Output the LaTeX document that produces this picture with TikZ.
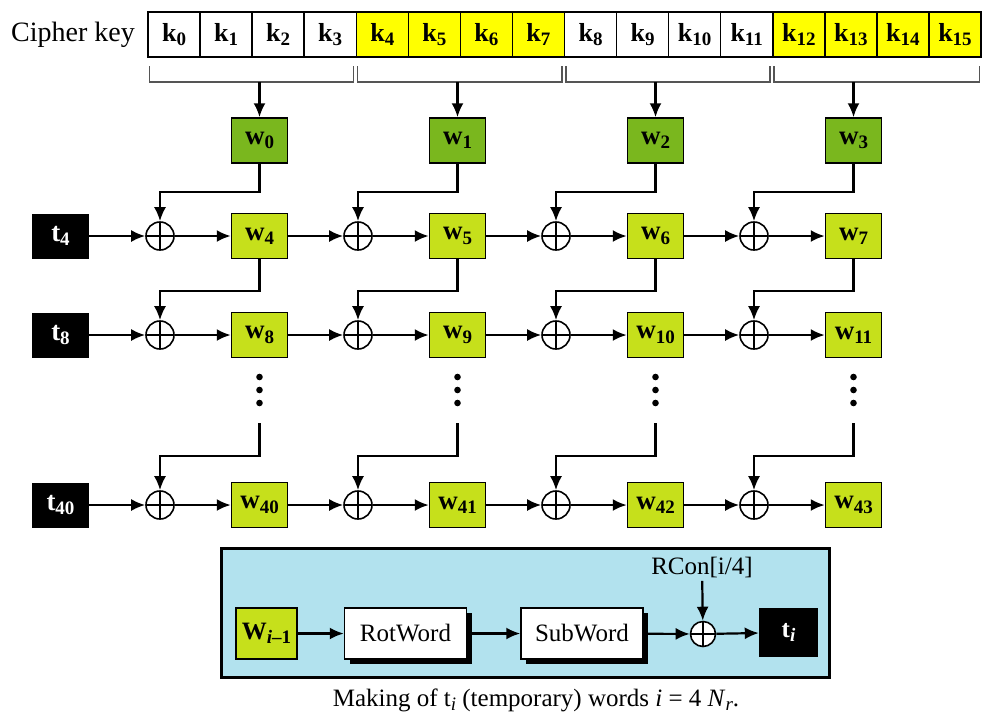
\documentclass[tikz,border=0pt]{standalone}
\usepackage{fontspec}
\setmainfont{Liberation Serif}
\usepackage{tikz}
\usetikzlibrary{positioning,arrows.meta,calc,shadows}
\definecolor{keyyellow}{RGB}{255,255,0}
\definecolor{wdark}{RGB}{122,183,30}
\definecolor{wlight}{RGB}{198,224,27}
\definecolor{panelblue}{RGB}{178,226,238}
\definecolor{bracketgray}{RGB}{85,85,85}
\newcommand{\lowsub}[1]{\raisebox{-0.35ex}{\fontsize{19}{19}\selectfont #1}}
\tikzset{
    on grid,
    node distance=3cm,
    auto,
    keytitle/.style = {
        shape=rectangle,
        font=\fontsize{28}{30}\selectfont
    },
    keycell/.style = {
        draw,
        shape=rectangle,
        minimum height=45pt,
        minimum width=52.06pt,
        inner sep=0pt,
        line width=1.5pt,
        font=\fontsize{26}{26}\selectfont\bfseries
    },
    yellowcell/.style = {
        keycell,
        fill=keyyellow
    },
    wordbox/.style = {
        draw,
        shape=rectangle,
        minimum height=45pt,
        minimum width=56pt,
        inner sep=0pt,
        line width=1.5pt,
        fill=wlight,
        font=\fontsize{27}{27}\selectfont\bfseries
    },
    firstword/.style = {
        wordbox,
        fill=wdark
    },
    tempbox/.style = {
        shape=rectangle,
        fill=black,
        text=white,
        minimum height=45pt,
        minimum width=57pt,
        inner sep=0pt,
        font=\fontsize{27}{27}\selectfont\bfseries
    },
    xor/.style = {
        draw,
        shape=circle,
        minimum size=28pt,
        inner sep=0pt,
        line width=1.6pt,
        fill=white,
        path picture={\draw[line width=1.6pt]
            (path picture bounding box.north) -- (path picture bounding box.south)
            (path picture bounding box.west) -- (path picture bounding box.east);}
    },
    panel/.style = {
        draw,
        shape=rectangle,
        fill=panelblue,
        minimum height=129pt,
        minimum width=608pt,
        line width=3pt
    },
    shadowbox/.style = {
        draw,
        shape=rectangle,
        fill=white,
        minimum height=51pt,
        minimum width=122pt,
        line width=1.5pt,
        font=\fontsize{25}{25}\selectfont,
        drop shadow={shadow xshift=5pt, shadow yshift=-5pt, fill=black, opacity=1}
    },
    bracket/.style = {
        draw=bracketgray,
        line width=1.2pt
    },
    link/.style = {
        draw,
        line width=2.2pt
    },
    >={Latex[length=14pt,width=12pt]},
}

\begin{document}
\begin{tikzpicture}[x=1pt,y=-1pt]
    \useasboundingbox (0,0) rectangle (990,724);

    % cipher key
    \node[keytitle] (title) at (73,35) {Cipher key};
    \node[keycell] (k0) at (174.03,34.5) {k\lowsub{0}};
    \node[keycell] (k1) at (226.09,34.5) {k\lowsub{1}};
    \node[keycell] (k2) at (278.16,34.5) {k\lowsub{2}};
    \node[keycell] (k3) at (330.22,34.5) {k\lowsub{3}};
    \node[yellowcell] (k4) at (382.28,34.5) {k\lowsub{4}};
    \node[yellowcell] (k5) at (434.34,34.5) {k\lowsub{5}};
    \node[yellowcell] (k6) at (486.41,34.5) {k\lowsub{6}};
    \node[yellowcell] (k7) at (538.47,34.5) {k\lowsub{7}};
    \node[keycell] (k8) at (590.53,34.5) {k\lowsub{8}};
    \node[keycell] (k9) at (642.59,34.5) {k\lowsub{9}};
    \node[keycell] (k10) at (694.66,34.5) {k\lowsub{10}};
    \node[keycell] (k11) at (746.72,34.5) {k\lowsub{11}};
    \node[yellowcell] (k12) at (798.78,34.5) {k\lowsub{12}};
    \node[yellowcell] (k13) at (850.84,34.5) {k\lowsub{13}};
    \node[yellowcell] (k14) at (902.91,34.5) {k\lowsub{14}};
    \node[yellowcell] (k15) at (954.97,34.5) {k\lowsub{15}};

    % brackets
    \path[bracket] (149.5,66) -- (149.5,82) -- (353.5,82) -- (353.5,66);
    \path[bracket] (357.5,66) -- (357.5,82) -- (562,82) -- (562,66);
    \path[bracket] (566,66) -- (566,82) -- (770,82) -- (770,66);
    \path[bracket] (774,66) -- (774,82) -- (979.5,82) -- (979.5,66);
    \coordinate (b0) at (259.5,82);
    \coordinate (b1) at (457.5,82);
    \coordinate (b2) at (655.5,82);
    \coordinate (b3) at (853.5,82);

    % first words
    \node[firstword] (w0) at (259.5,140.5) {w\lowsub{0}};
    \node[firstword] (w1) at (457.5,140.5) {w\lowsub{1}};
    \node[firstword] (w2) at (655.5,140.5) {w\lowsub{2}};
    \node[firstword] (w3) at (853.5,140.5) {w\lowsub{3}};

    % row t4
    \node[tempbox] (t4) at (60.5,236) {t\lowsub{4}};
    \node[xor] (x4) at (160,236) {};
    \node[wordbox] (w4) at (259.5,236) {w\lowsub{4}};
    \node[xor] (x5) at (358,236) {};
    \node[wordbox] (w5) at (457.5,236) {w\lowsub{5}};
    \node[xor] (x6) at (556,236) {};
    \node[wordbox] (w6) at (655.5,236) {w\lowsub{6}};
    \node[xor] (x7) at (754,236) {};
    \node[wordbox] (w7) at (853.5,236) {w\lowsub{7}};

    % row t8
    \node[tempbox] (t8) at (60.5,335) {t\lowsub{8}};
    \node[xor] (x8) at (160,335) {};
    \node[wordbox] (w8) at (259.5,335) {w\lowsub{8}};
    \node[xor] (x9) at (358,335) {};
    \node[wordbox] (w9) at (457.5,335) {w\lowsub{9}};
    \node[xor] (x10) at (556,335) {};
    \node[wordbox] (w10) at (655.5,335) {w\lowsub{10}};
    \node[xor] (x11) at (754,335) {};
    \node[wordbox] (w11) at (853.5,335) {w\lowsub{11}};

    % dots
    \fill (259.5,377) circle (3.3pt) (259.5,390) circle (3.3pt) (259.5,403) circle (3.3pt);
    \fill (457.5,377) circle (3.3pt) (457.5,390) circle (3.3pt) (457.5,403) circle (3.3pt);
    \fill (655.5,377) circle (3.3pt) (655.5,390) circle (3.3pt) (655.5,403) circle (3.3pt);
    \fill (853.5,377) circle (3.3pt) (853.5,390) circle (3.3pt) (853.5,403) circle (3.3pt);
    \coordinate (d0) at (259.5,423);
    \coordinate (d1) at (457.5,423);
    \coordinate (d2) at (655.5,423);
    \coordinate (d3) at (853.5,423);

    % row t40
    \node[tempbox] (t40) at (60.5,505) {t\lowsub{40}};
    \node[xor] (x40) at (160,505) {};
    \node[wordbox] (w40) at (259.5,505) {w\lowsub{40}};
    \node[xor] (x41) at (358,505) {};
    \node[wordbox] (w41) at (457.5,505) {w\lowsub{41}};
    \node[xor] (x42) at (556,505) {};
    \node[wordbox] (w42) at (655.5,505) {w\lowsub{42}};
    \node[xor] (x43) at (754,505) {};
    \node[wordbox] (w43) at (853.5,505) {w\lowsub{43}};

    % key to first words
    \path[link, ->] (b0) -- (w0);
    \path[link, ->] (b1) -- (w1);
    \path[link, ->] (b2) -- (w2);
    \path[link, ->] (b3) -- (w3);

    % rows
    \path[link, ->] (t4) -- (x4);
    \path[link, ->] (x4) -- (w4);
    \path[link, ->] (w4) -- (x5);
    \path[link, ->] (x5) -- (w5);
    \path[link, ->] (w5) -- (x6);
    \path[link, ->] (x6) -- (w6);
    \path[link, ->] (w6) -- (x7);
    \path[link, ->] (x7) -- (w7);
    \path[link, ->] (t8) -- (x8);
    \path[link, ->] (x8) -- (w8);
    \path[link, ->] (w8) -- (x9);
    \path[link, ->] (x9) -- (w9);
    \path[link, ->] (w9) -- (x10);
    \path[link, ->] (x10) -- (w10);
    \path[link, ->] (w10) -- (x11);
    \path[link, ->] (x11) -- (w11);
    \path[link, ->] (t40) -- (x40);
    \path[link, ->] (x40) -- (w40);
    \path[link, ->] (w40) -- (x41);
    \path[link, ->] (x41) -- (w41);
    \path[link, ->] (w41) -- (x42);
    \path[link, ->] (x42) -- (w42);
    \path[link, ->] (w42) -- (x43);
    \path[link, ->] (x43) -- (w43);

    % feedback
    \path[link, ->] (w0.south) -- ++(0,28) -| (x4.north);
    \path[link, ->] (w1.south) -- ++(0,28) -| (x5.north);
    \path[link, ->] (w2.south) -- ++(0,28) -| (x6.north);
    \path[link, ->] (w3.south) -- ++(0,28) -| (x7.north);
    \path[link, ->] (w4.south) -- ++(0,31.5) -| (x8.north);
    \path[link, ->] (w5.south) -- ++(0,31.5) -| (x9.north);
    \path[link, ->] (w6.south) -- ++(0,31.5) -| (x10.north);
    \path[link, ->] (w7.south) -- ++(0,31.5) -| (x11.north);
    \path[link, ->] (d0) -- ++(0,33) -| (x40.north);
    \path[link, ->] (d1) -- ++(0,33) -| (x41.north);
    \path[link, ->] (d2) -- ++(0,33) -| (x42.north);
    \path[link, ->] (d3) -- ++(0,33) -| (x43.north);

    % making of t_i
    \node[panel] (panel) at (525,612.5) {};
    \node[wordbox, minimum width=61pt, minimum height=51pt, font=\fontsize{25}{25}\selectfont\bfseries] (wprev) at (266.5,633.5) {W\lowsub{\textit{i}–1}};
    \node[shadowbox] (rot) at (405.5,633.5) {RotWord};
    \node[shadowbox] (sub) at (582,633.5) {SubWord};
    \node[xor, minimum size=25pt] (rx) at (703,634) {};
    \node[keytitle, font=\fontsize{25}{25}\selectfont] (rcon) at (702,567) {RCon[i/4]};
    \node[tempbox, minimum width=59pt, minimum height=49pt, font=\fontsize{25}{25}\selectfont\bfseries] (ti) at (788.5,632.5) {t\lowsub{\textit{i}}};
    \path[link, ->] (wprev) -- (rot);
    \path[link, ->] (rot) -- (sub);
    \path[link, ->] (sub) -- (rx);
    \path[link, ->] (rx) -- (ti);
    \path[link, ->] (rcon) -- (rx);
    \node[keytitle, font=\fontsize{25}{25}\selectfont] (caption) at (536,700) {Making of t\lowsub{\textit{i}} (temporary) words \textit{i} = 4 \textit{N}\lowsub{\textit{r}}.};
\end{tikzpicture}
\end{document}
